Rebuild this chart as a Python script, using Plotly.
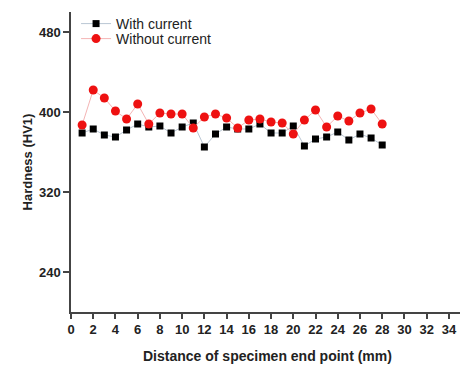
import plotly.graph_objects as go

x_vals = list(range(1, 29))
with_current = [379, 383, 377, 375, 382, 388, 385, 386, 379, 385, 389, 365, 378, 385,
                383, 383, 388, 379, 379, 386, 366, 373, 375, 380, 372, 378, 374, 367]
without_current = [387, 422, 414, 401, 393, 408, 388, 399, 398, 398, 384, 395, 398, 394,
                   384, 392, 393, 390, 389, 378, 392, 402, 385, 396, 391, 399, 403, 388]
x_ticks = list(range(0, 36, 2))
y_ticks = [240, 320, 400, 480]

FONT = "Liberation Sans, Arial, sans-serif"

fig = go.Figure()
fig.add_trace(go.Scatter(
    x=x_vals, y=with_current, name="With current", mode="lines+markers",
    line=dict(color="#b9c6d3", width=1),
    marker=dict(symbol="square", size=7, color="#000000"),
    legend="legend",
))
fig.add_trace(go.Scatter(
    x=x_vals, y=without_current, name="Without current", mode="lines+markers",
    line=dict(color="#f4b4b4", width=1),
    marker=dict(symbol="circle", size=9, color="#ee1111"),
    legend="legend2",
))

leg_common = dict(xanchor="left", yanchor="middle", bgcolor="rgba(0,0,0,0)",
                  font=dict(family=FONT, size=14, color="#222222"), itemwidth=30)

fig.update_layout(
    width=460, height=366,
    margin=dict(l=71, r=0, t=12, b=54),
    paper_bgcolor="white", plot_bgcolor="white",
    font=dict(family=FONT, size=12, color="#222222"),
    showlegend=True,
    legend=dict(x=0.013, y=0.96, **leg_common),
    legend2=dict(x=0.013, y=0.91, **leg_common),
    annotations=[
        dict(text="<b>Hardness (HV1)</b>", xref="paper", yref="paper",
             x=-0.112, y=0.5, xanchor="center", yanchor="middle", textangle=-90,
             showarrow=False, font=dict(family=FONT, size=13, color="#222222")),
        dict(text="<b>Distance of specimen end point (mm)</b>", xref="paper", yref="paper",
             x=0.504, y=-0.148, xanchor="center", yanchor="middle",
             showarrow=False, font=dict(family=FONT, size=14, color="#222222")),
    ],
)
fig.update_xaxes(
    range=[0, 35], tickvals=x_ticks, ticktext=[str(v) for v in x_ticks],
    automargin=False, ticklabeloverflow="allow",
    showgrid=False, zeroline=False, showline=True, linecolor="#444444", linewidth=1.5,
    ticks="outside", ticklen=5, tickcolor="#444444", tickwidth=1.5,
    tickfont=dict(family=FONT, size=13, weight="bold", color="#222222"),
)
fig.update_yaxes(
    range=[200, 500], tickvals=y_ticks, ticktext=[str(v) for v in y_ticks],
    automargin=False,
    showgrid=False, zeroline=False, showline=True, linecolor="#444444", linewidth=1.5,
    ticks="outside", ticklen=6, tickcolor="#444444", tickwidth=1.5,
    tickfont=dict(family=FONT, size=13, weight="bold", color="#222222"),
)

# remove the default 8px page margin so the 460x366 figure fills the window exactly
fig.write_html("out.html",
               config={"displayModeBar": False},
               post_script="document.body.style.margin='0';document.body.style.overflow='hidden';")
